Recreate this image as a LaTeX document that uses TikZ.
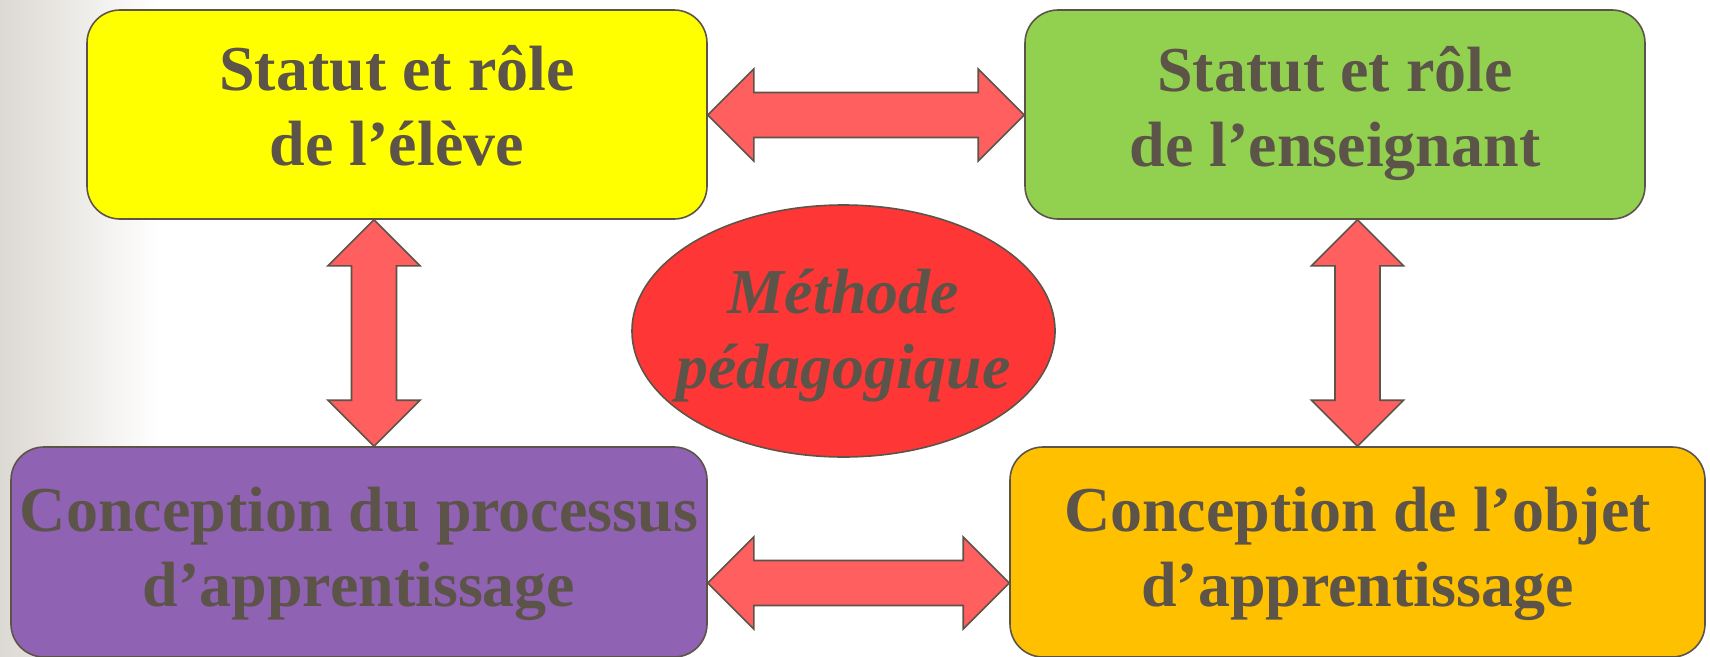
\documentclass[tikz,border=0pt]{standalone}
\usepackage{fontspec}
\setmainfont{Liberation Serif}
\usetikzlibrary{shapes.geometric,calc}
\definecolor{ink}{HTML}{5D5449}
\definecolor{cyel}{HTML}{FFFF00}
\definecolor{cgrn}{HTML}{92D050}
\definecolor{cpur}{HTML}{8F62B3}
\definecolor{corg}{HTML}{FFC000}
\definecolor{cred}{HTML}{FF3636}
\definecolor{carr}{HTML}{FF5F5F}
\definecolor{cbg}{HTML}{DCD8D2}
\tikzset{
  box/.style={draw=ink, line width=1.6pt, rounded corners=33pt, inner sep=0pt,
    minimum width=#1, minimum height=209pt},
  txt/.style={text=ink, align=center, inner sep=0pt,
    font=\fontsize{64}{75}\selectfont\bfseries},
  itxt/.style={txt, font=\fontsize{64}{75}\selectfont\bfseries\itshape},
  arrsty/.style={draw=ink, line width=1.6pt, fill=carr, line join=miter},
}
\newcommand\twowayarrow[2]{%
  \path coordinate (h1) at ($(#1)!46pt!(#2)$) coordinate (h2) at ($(#2)!46pt!(#1)$);
  \draw[arrsty] (#1) -- ($(h1)!46pt!90:(#2)$) -- ($(h1)!22.5pt!90:(#2)$)
    -- ($(h2)!22.5pt!-90:(#1)$) -- ($(h2)!46pt!-90:(#1)$) -- (#2)
    -- ($(h2)!46pt!90:(#1)$) -- ($(h2)!22.5pt!90:(#1)$)
    -- ($(h1)!22.5pt!-90:(#2)$) -- ($(h1)!46pt!-90:(#2)$) -- cycle;}
\begin{document}
\begin{tikzpicture}[x=1pt, y=-1pt]
\useasboundingbox (0,0) rectangle (1710,656);
\fill[white] (0,0) rectangle (1710,656);
\shade[left color=cbg, right color=white] (0,0) rectangle (160,656);
% boxes
\node[box=620pt, fill=cyel] (eleve) at (397,114.5) {};
\node[box=620pt, fill=cgrn] (ens) at (1335,114.5) {};
\node[box=696pt, fill=cpur, minimum height=210pt] (proc) at (359,552) {};
\node[box=695pt, fill=corg, minimum height=210pt] (obj) at (1357.5,552) {};
\node[ellipse, draw=ink, line width=1.6pt, fill=cred, minimum width=423pt,
  minimum height=252pt, inner sep=0pt] (meth) at (843.5,331) {};
% texts
\node[txt] (eleveT) at ($(eleve.center)+(0,-8.5)$) {Statut et rôle\\de l’élève};
\node[txt] (ensT) at ($(ens.center)+(0,-1.5)$) {Statut et rôle\\de l’enseignant};
\node[txt] (procT) at ($(proc.center)+(0,2)$) {Conception du processus\\d’apprentissage};
\node[txt] (objT) at ($(obj.center)+(0,2)$) {Conception de l’objet\\d’apprentissage};
\node[itxt] (methT) at ($(meth.center)+(0,5)$) {Méthode\\pédagogique};
% arrows
\coordinate (a1) at ($(eleve.east)+(0,0.5)$);
\coordinate (a2) at ($(ens.west)+(0,0.5)$);
\twowayarrow{a1}{a2}
\coordinate (b1) at ($(proc.east)+(0,31)$);
\coordinate (b2) at ($(obj.west)+(0,31)$);
\twowayarrow{b1}{b2}
\coordinate (c1) at ($(eleve.south)+(-23,0)$);
\coordinate (c2) at ($(proc.north)+(15,0)$);
\twowayarrow{c1}{c2}
\coordinate (d1) at (ens.south -| obj.north);
\coordinate (d2) at (obj.north);
\twowayarrow{d1}{d2}
\end{tikzpicture}
\end{document}
